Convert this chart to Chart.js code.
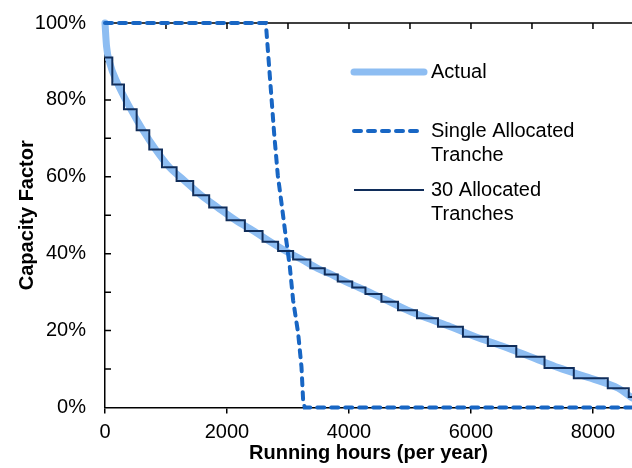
<!DOCTYPE html>
<html>
<head>
<meta charset="utf-8">
<title>Capacity factor duration curve</title>
<script src="https://cdn.jsdelivr.net/npm/chart.js@4.4.0/dist/chart.umd.min.js"></script>
<style>
  html, body { margin: 0; padding: 0; background: #fff; }
  #wrap { width: 632px; height: 468px; }
</style>
</head>
<body>
<div id="wrap"><canvas id="cfChart" width="632" height="468"></canvas></div>
<script>
/* ================= DATA ================= */
var seriesLabels = [["Actual"], ["Single Allocated", "Tranche"], ["30 Allocated", "Tranches"]];
var xTitle = "Running hours (per year)";
var yTitle = "Capacity Factor";
var hoursEnd = 8640;

// actual load duration curve (hours, % capacity factor)
var actualHours = [0, 25, 80, 200, 415, 622, 830, 1054, 1310, 1577, 1850, 2143, 2438, 2710, 2961, 3225,
    3484, 3710, 3935, 4162, 4401, 4668, 4960, 5287, 5663, 6072, 6510, 6975, 7446, 7965, 8415, 8640];
var actualCF = [100, 94, 89.5, 84.5, 77.8, 72.1, 67.1, 62.5, 58.9, 55.2, 52.0, 48.7, 45.9, 43.1, 40.7, 38.5,
    36.2, 34.6, 32.8, 31.2, 29.5, 27.5, 25.3, 23.2, 21.0, 18.4, 16.0, 13.2, 10.3, 7.6, 5.0, 2.5];

// single allocated tranche
var singleHours = [0, 2637, 2691, 2773, 2833, 2894, 2964, 3030, 3084, 3166, 3221, 3248, 3275, 8640];
var singleCF = [100, 100, 88.6, 71.3, 60.4, 53.1, 44.4, 36.6, 27.9, 19.4, 10.6, 1.9, 0, 0];

// 30 allocated tranches: start hour of each tranche and its level
var trancheStart = [0, 120, 311, 519, 726, 934, 1174, 1446, 1708, 1993, 2293, 2583, 2838, 3084, 3366,
    3603, 3816, 4053, 4270, 4532, 4804, 5115, 5459, 5868, 6277, 6743, 7206, 7686, 8243, 8587];
var trancheLevel = [91.0, 84.0, 77.6, 72.1, 67.1, 62.5, 58.9, 55.2, 52.0, 48.7, 45.9, 43.1, 40.7, 38.5, 36.2,
    34.6, 32.8, 31.2, 29.5, 27.5, 25.3, 23.2, 21.0, 18.4, 16.0, 13.2, 10.3, 7.6, 5.0, 2.7];

var xTicks = [0, 2000, 4000, 6000, 8000];
var yTicks = [0, 20, 40, 60, 80, 100];

/* ================= STYLE ================= */
var colActual = "#8dbdf2";
var colSingle = "#1866c4";
var colTranche = "#102d5a";
var axisColor = "#000";
var fontFamily = "'Liberation Sans', Arial, Helvetica, sans-serif";

Chart.defaults.font.family = fontFamily;
Chart.defaults.color = "#000";

/* ================= HELPERS ================= */
function toPoints(xs, ys) {
    return xs.map(function (x, i) { return { x: x, y: ys[i] }; });
}

var trancheSeries = toPoints(trancheStart, trancheLevel);
trancheSeries.push({ x: hoursEnd, y: trancheLevel[trancheLevel.length - 1] });

// top border, inward ticks on top and left
var frameTicks = {
    id: "frameTicks",
    beforeDatasetsDraw: function (chart) {
        var ctx = chart.ctx;
        var area = chart.chartArea;
        var xs = chart.scales.x;
        var ys = chart.scales.y;
        ctx.save();
        ctx.strokeStyle = axisColor;
        ctx.lineWidth = 1.5;
        ctx.beginPath();
        ctx.moveTo(area.left, area.top);
        ctx.lineTo(area.right, area.top);
        for (var h = 1000; h <= xs.max; h += 1000) {
            var px = xs.getPixelForValue(h);
            ctx.moveTo(px, area.top);
            ctx.lineTo(px, area.top + 6);
        }
        for (var v = 10; v < 100; v += 10) {
            var py = ys.getPixelForValue(v);
            ctx.moveTo(area.left, py);
            ctx.lineTo(area.left + 6, py);
        }
        ctx.stroke();
        ctx.restore();
    }
};

// legend inside the plot, multi-line labels
var sideLegend = {
    id: "sideLegend",
    afterDatasetsDraw: function (chart) {
        var ctx = chart.ctx;
        var rows = [72, 131, 190];
        var x0 = 354, x1 = 424, tx = 431;
        ctx.save();
        chart.data.datasets.forEach(function (ds, i) {
            var y = rows[i];
            ctx.beginPath();
            ctx.strokeStyle = ds.borderColor;
            ctx.lineWidth = ds.borderWidth;
            ctx.lineCap = ds.borderCapStyle || "butt";
            ctx.setLineDash(ds.borderDash || []);
            ctx.moveTo(x0, y);
            ctx.lineTo(x1, y);
            ctx.stroke();
            ctx.setLineDash([]);
            ctx.fillStyle = "#000";
            ctx.font = "20px " + fontFamily;
            ctx.textBaseline = "middle";
            ctx.textAlign = "left";
            seriesLabels[i].forEach(function (line, j) {
                ctx.fillText(line, tx, y + j * 24);
            });
        });
        ctx.restore();
    }
};

/* ================= CHART ================= */
new Chart(document.getElementById("cfChart"), {
    type: "line",
    data: {
        datasets: [{
                label: seriesLabels[0].join(" "),
                data: toPoints(actualHours, actualCF),
                borderColor: colActual,
                borderWidth: 7,
                borderCapStyle: "round",
                cubicInterpolationMode: "monotone",
                pointRadius: 0,
                order: 2,
                clip: false
            }, {
                label: seriesLabels[1].join(" "),
                data: toPoints(singleHours, singleCF),
                borderColor: colSingle,
                borderWidth: 4,
                borderDash: [7, 7],
                borderCapStyle: "round",
                tension: 0,
                pointRadius: 0,
                order: 1,
                clip: false
            }, {
                label: seriesLabels[2].join(" "),
                data: trancheSeries,
                borderColor: colTranche,
                borderWidth: 2,
                stepped: "before",
                pointRadius: 0,
                order: 0,
                clip: false
            }]
    },
    options: {
        responsive: false,
        animation: false,
        layout: { padding: { top: 23, right: 0, bottom: 0, left: 0 } },
        plugins: {
            legend: { display: false },
            tooltip: { enabled: false }
        },
        scales: {
            x: {
                type: "linear",
                min: 0,
                max: hoursEnd,
                afterFit: function (s) { s.height = 60.5; },
                afterBuildTicks: function (s) {
                    s.ticks = xTicks.map(function (v) { return { value: v }; });
                },
                ticks: {
                    font: { size: 20 },
                    color: "#000",
                    padding: 7,
                    maxRotation: 0,
                    callback: function (v) { return String(v); }
                },
                grid: {
                    drawOnChartArea: false,
                    drawTicks: true,
                    tickLength: 6,
                    color: axisColor,
                    lineWidth: 1.5
                },
                border: { display: true, color: axisColor, width: 1.5 },
                title: {
                    display: true,
                    text: xTitle,
                    font: { size: 20, weight: "bold" },
                    color: "#000",
                    padding: { top: 0, bottom: 3 }
                }
            },
            y: {
                min: 0,
                max: 100,
                afterFit: function (s) { s.width = 105; },
                afterBuildTicks: function (s) {
                    s.ticks = yTicks.map(function (v) { return { value: v }; });
                },
                ticks: {
                    font: { size: 20 },
                    color: "#000",
                    padding: 5,
                    callback: function (v) { return v + "%"; }
                },
                grid: {
                    drawOnChartArea: false,
                    drawTicks: true,
                    tickLength: 14,
                    tickColor: "rgba(0,0,0,0)"
                },
                border: { display: true, color: axisColor, width: 1.5 },
                title: {
                    display: true,
                    text: yTitle,
                    font: { size: 20, weight: "bold" },
                    color: "#000",
                    padding: { top: 15, bottom: 0 }
                }
            }
        }
    },
    plugins: [frameTicks, sideLegend]
});
</script>
</body>
</html>
